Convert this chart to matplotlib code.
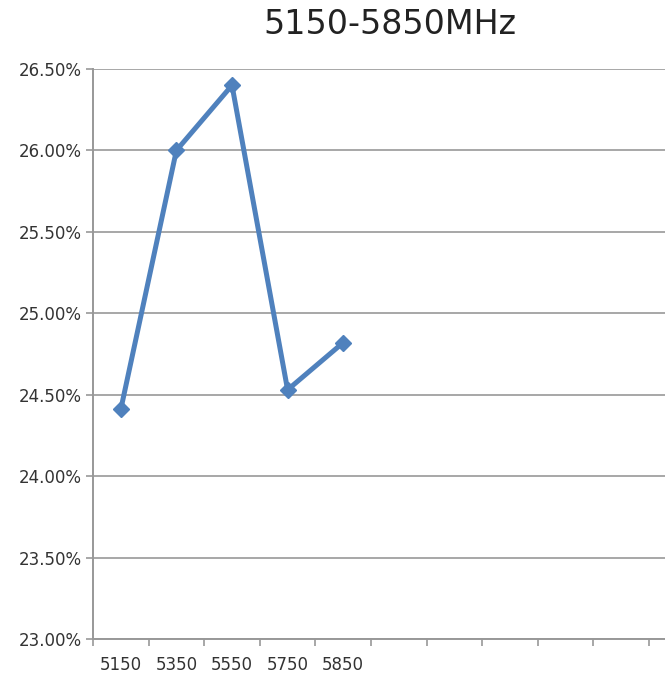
import numpy as np
import matplotlib
matplotlib.use('Agg')
import matplotlib.pyplot as plt
from matplotlib.ticker import FuncFormatter, FixedLocator

# data
freqs = ['5150', '5350', '5550', '5750', '5850']
values = [24.41, 26.00, 26.40, 24.53, 24.82]
n_slots = 10  # category axis has 10 slots, only 5 used

fig = plt.figure(figsize=(6.65, 6.77), dpi=100)
ax = fig.add_axes([93/665, 1-639/677, (665-93)/665, (639-69)/677])

x = np.arange(len(values))
ax.plot(x, values, color='#4F81BD', lw=3.6, marker='D', ms=8.5, solid_joinstyle='round')

# plot area runs slightly past the last slot (cropped at the image edge)
ax.set_xlim(-0.5, -0.5 + (665 - 93) / 55.6)
ax.set_ylim(23.0, 26.5)
ax.set_yticks(np.arange(23.0, 26.51, 0.5))
ax.yaxis.set_major_formatter(FuncFormatter(lambda v, p: '%.2f%%' % v))
ax.grid(axis='y', color='#989898', lw=1.2)
ax.set_axisbelow(True)

ax.set_xticks(x)
ax.set_xticklabels(freqs)
ax.xaxis.set_minor_locator(FixedLocator(np.arange(-0.5, n_slots, 1.0)))
ax.tick_params(axis='x', which='major', length=0, pad=12, labelsize=12, colors='#333333')
ax.tick_params(axis='x', which='minor', length=5, color='#989898', width=1.2)
ax.tick_params(axis='y', length=5, color='#989898', width=1.2, labelsize=12, labelcolor='#333333', pad=3)

for s in ['top', 'right']:
    ax.spines[s].set_visible(False)
for s in ['left', 'bottom']:
    ax.spines[s].set_color('#989898')
    ax.spines[s].set_linewidth(1.4)

fig.text(390/665, 1-25/677, '5150-5850MHz', ha='center', va='center', fontsize=24, color='#222222')

fig.savefig('out.png', dpi=100)
